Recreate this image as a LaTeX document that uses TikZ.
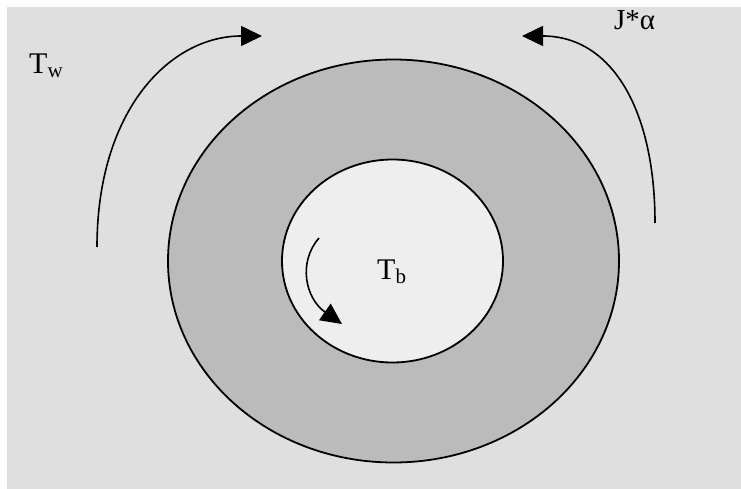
\documentclass[tikz,border=0pt]{standalone}
\usepackage{fontspec}
\setmainfont{Liberation Serif}
\usetikzlibrary{arrows.meta,shapes.geometric}
\definecolor{bgc}{HTML}{DFDFDF}
\definecolor{ringc}{HTML}{BBBBBB}
\definecolor{holec}{HTML}{EEEEEE}
\tikzset{
  ring/.style={ellipse, draw=black, line width=1.8pt, inner sep=0pt},
  torque/.style={line width=1.6pt, -{Triangle[length=21pt,width=20pt]}},
  lab/.style={inner sep=0pt, anchor=base west, font=\fontsize{30}{30}\selectfont},
}
\newcommand{\lsub}[1]{\raisebox{-4pt}{\fontsize{21}{21}\selectfont #1}}
\begin{document}
\begin{tikzpicture}[x=1pt,y=-1pt]
\useasboundingbox (0,0) rectangle (741,489);
\fill[white] (0,0) rectangle (741,489);
\fill[bgc] (7,7) rectangle (741,489);
\node[ring, fill=ringc, minimum width=451pt, minimum height=403pt] (outer) at (393.5,261) {};
\node[ring, fill=holec, minimum width=221pt, minimum height=203pt] (inner) at (392.5,261) {};
\node[lab] (tw) at (29,74) {T\lsub{w}};
\node[lab] (tb) at (377,279) {T\lsub{b}};
\node[lab, font=\fontsize{29}{29}\selectfont] (ja) at (614,30) {J*α};
\coordinate (lstart) at (97,247);
\coordinate (lend) at (262,36);
\coordinate (rstart) at (655,223);
\coordinate (rend) at (522,36);
\coordinate (istart) at (319,238);
\coordinate (iend) at (342,324);
\draw[torque] (lstart) .. controls (97,110) and (170,36) .. (lend);
\draw[torque] (rstart) .. controls (655,110) and (612,36) .. (rend);
\draw[torque] (istart) .. controls (298,262) and (305,298) .. (iend);
\end{tikzpicture}
\end{document}
